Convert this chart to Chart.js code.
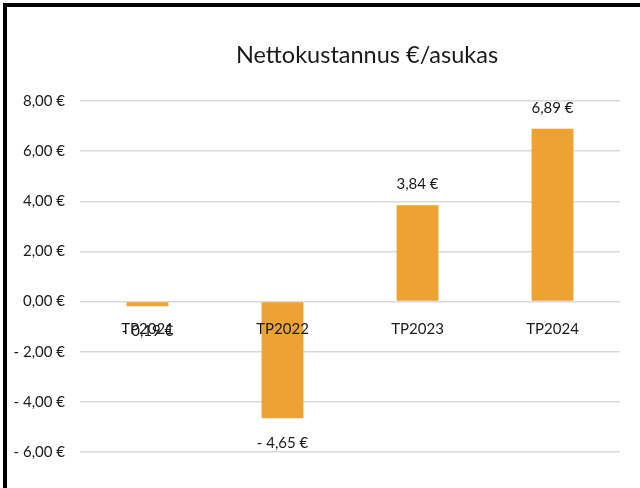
<!DOCTYPE html>
<html>
<head>
<meta charset="utf-8">
<script src="https://cdn.jsdelivr.net/npm/chart.js@4"></script>
<style>
  body { margin: 0; background: #fff; }
  #wrap { position: relative; width: 640px; height: 488px; }
  #frame { position: absolute; left: 3px; top: 3px; width: 640px; height: 488px;
           border-left: 4px solid #000; border-top: 4px solid #000; pointer-events: none; }
</style>
</head>
<body>
<div id="wrap">
  <canvas id="chart" width="640" height="488"></canvas>
  <div id="frame"></div>
</div>
<script>
var categories = ["TP2021", "TP2022", "TP2023", "TP2024"];
var values = [-0.19, -4.65, 3.84, 6.89];
var yTicks = [-6, -4, -2, 0, 2, 4, 6, 8];
var titleText = 'Nettokustannus €/asukas';

var textColor = '#1a1a1a';
var fontFamily = 'Lato, "Open Sans", sans-serif';

// Finnish currency format, e.g. "6,89 €" and "- 4,65 €"
function euro(v) {
    var s = Math.abs(v).toFixed(2).replace('.', ',') + ' €';
    return v < 0 ? '- ' + s : s;
}

// value labels outside the bar end + title (sits off-centre in the original)
var barLabels = {
    id: 'barLabels',
    afterDatasetsDraw: function(chart) {
        var ctx = chart.ctx;
        var meta = chart.getDatasetMeta(0);
        ctx.save();
        ctx.font = '15px ' + fontFamily;
        ctx.fillStyle = textColor;
        ctx.textAlign = 'center';
        ctx.textBaseline = 'middle';
        meta.data.forEach(function(bar, i) {
            var v = values[i];
            var y = v >= 0 ? bar.y - 21 : bar.y + 25;
            ctx.fillText(euro(v), bar.x, y);
        });
        ctx.font = '23.5px ' + fontFamily;
        ctx.fillText(titleText, 367, 55);
        ctx.restore();
    }
};

var ctx = document.getElementById('chart').getContext('2d');
var chart = new Chart(ctx, {
    type: 'bar',
    data: {
        labels: categories,
        datasets: [{
            data: values,
            backgroundColor: '#EEA232',
            categoryPercentage: 1,
            barPercentage: 0.31
        }]
    },
    options: {
        responsive: false,
        animation: false,
        layout: { padding: { left: 0, right: 20, top: 101, bottom: 36 } },
        plugins: {
            legend: { display: false },
            tooltip: { enabled: false },
            title: { display: false }
        },
        scales: {
            x: {
                position: { y: 0 },
                grid: { display: false, drawTicks: false },
                border: { display: false },
                ticks: { z: 1, color: textColor, padding: 19, font: { family: fontFamily, size: 15 } }
            },
            y: {
                min: yTicks[0],
                max: yTicks[yTicks.length - 1],
                afterBuildTicks: function(scale) {
                    scale.ticks = yTicks.map(function(v) { return { value: v }; });
                },
                afterFit: function(scale) { scale.width = 80; },
                grid: { color: '#D9D9D9', lineWidth: 1.5, drawTicks: false },
                border: { display: false },
                ticks: {
                    color: textColor,
                    padding: 15,
                    font: { family: fontFamily, size: 15 },
                    callback: function(v) { return euro(v); }
                }
            }
        }
    },
    plugins: [barLabels]
});
</script>
</body>
</html>
